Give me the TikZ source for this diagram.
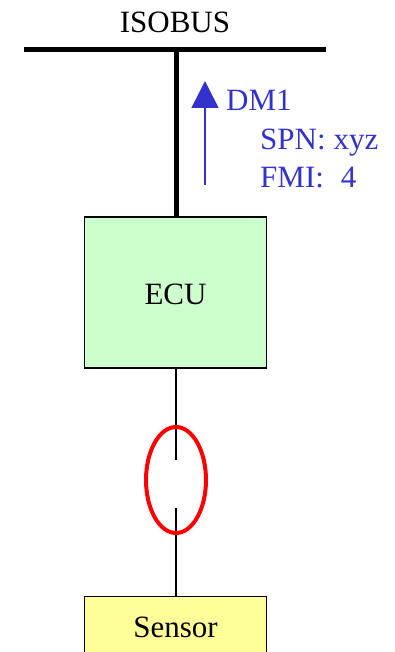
\documentclass[tikz,border=0pt]{standalone}
\usepackage{fontspec}
\setmainfont{Liberation Serif}
\usetikzlibrary{arrows.meta,shapes.geometric}
\definecolor{ecugreen}{HTML}{CCFFCC}
\definecolor{sensyellow}{HTML}{FFFF99}
\definecolor{msgblue}{HTML}{3333CC}
\begin{document}
\begin{tikzpicture}[x=1pt,y=-1pt,
  lbl/.style={font=\fontsize{31}{36}\selectfont, inner sep=0pt},
  unitbox/.style={draw=black, line width=1.4pt, minimum width=182pt, inner sep=0pt, font=\fontsize{31}{36}\selectfont},
  busline/.style={line width=5pt},
  wire/.style={line width=1.3pt},
  msg/.style={lbl, text=msgblue},
  breakloop/.style={draw=red, line width=4pt, ellipse, minimum width=60pt, minimum height=106pt, inner sep=0pt}
]
\useasboundingbox (0,0) rectangle (395,652);
\clip (0,0) rectangle (395,652);
% bus
\coordinate (busL) at (24,50);
\coordinate (busR) at (326,50);
\coordinate (busT) at (176,50);
\draw[busline] (busL) -- (busR);
\node[lbl, anchor=base] (isobus) at (175,33) {ISOBUS};
% ECU
\node[unitbox, fill=ecugreen, minimum height=151pt] (ecu) at (175.5,292.5) {};
\node[lbl, anchor=base] (ecutxt) at (175.5,304) {ECU};
\draw[busline] (busT) -- (ecu.north -| busT);
% sensor
\node[unitbox, fill=sensyellow, minimum height=110pt, anchor=north] (sensor) at (175.5,595.5) {};
\node[lbl, anchor=base] (senstxt) at (175.5,637) {Sensor};
% wire with break
\coordinate (w1) at (176,460);
\coordinate (w2) at (176,508);
\draw[wire] (ecu.south -| w1) -- (w1);
\draw[wire] (w2) -- (sensor.north -| w2);
% red ellipse
\node[breakloop] (loop) at (176,480) {};
% DM1 arrow
\coordinate (aS) at (205,185);
\coordinate (aE) at (205,81);
\draw[msgblue, line width=1.5pt, -{Triangle[width=27pt,length=27pt]}] (aS) -- (aE);
\node[msg, anchor=base west] (dm1) at (226,111) {DM1};
\node[msg, anchor=base west] (spn) at (260,150) {SPN:\hspace{8pt}xyz};
\node[msg, anchor=base west] (fmi) at (260,188) {FMI:\hspace{17pt}4};
\end{tikzpicture}
\end{document}
